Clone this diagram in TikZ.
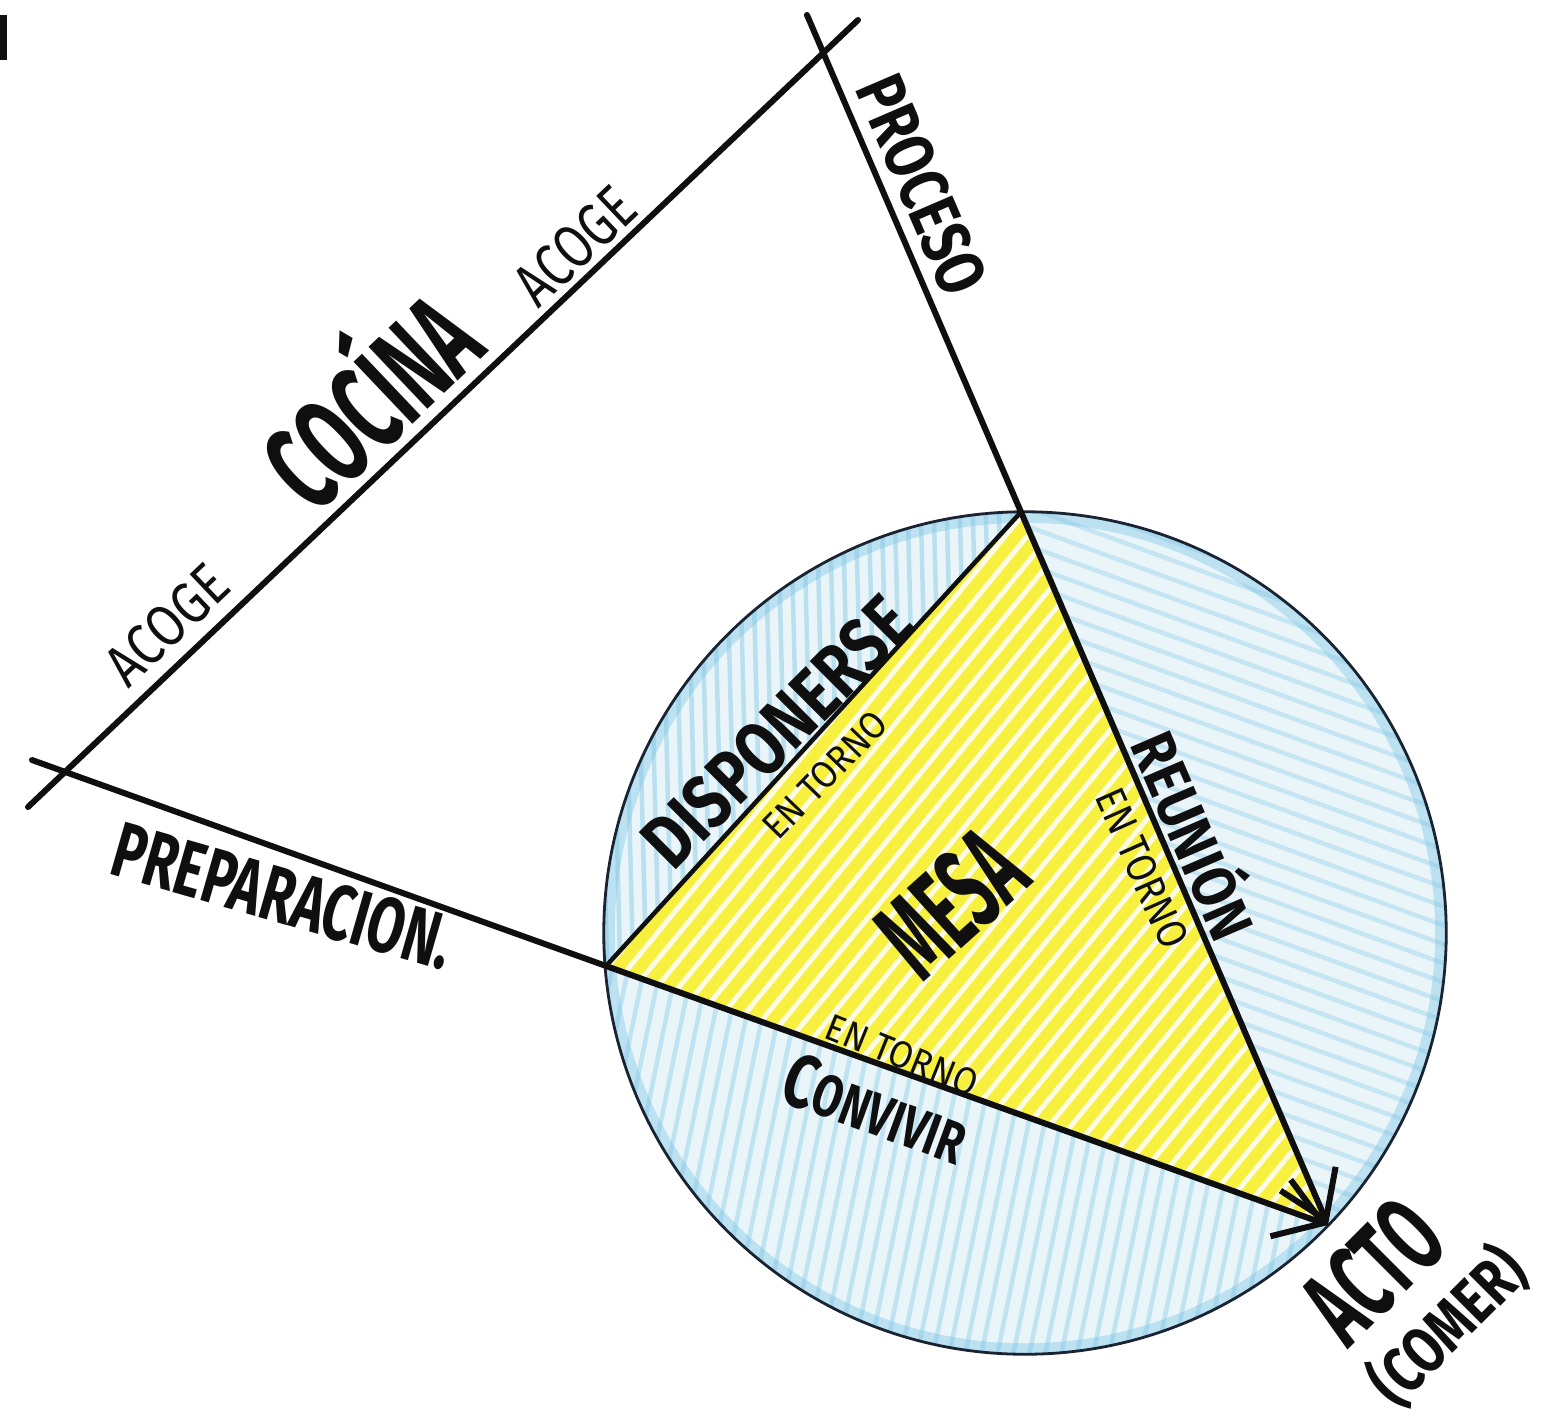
\documentclass[tikz,border=0pt]{standalone}
\usepackage{fontspec}
\setmainfont{Fira Sans}
\usepackage{graphicx}
\usetikzlibrary{arrows.meta}
\definecolor{mesayellow}{RGB}{247,240,62}
\definecolor{blueback}{RGB}{234,245,250}
\definecolor{bluestreak}{RGB}{120,196,228}
\definecolor{ink}{RGB}{15,15,15}
\definecolor{rim}{RGB}{25,35,50}
\newcommand{\fitt}[3]{\resizebox*{#1}{#2}{#3}}
\begin{document}
\begin{tikzpicture}[x=0.01cm,y=-0.01cm,
  lab/.style={inner sep=0pt, text=ink},
  mainline/.style={draw=ink, line width=0.06cm, line cap=round},
  arrowline/.style={mainline, -{Straight Barb[length=0.45cm,width=0.6cm]}},
  chord/.style={draw=ink, line width=0.045cm, line cap=round},
  bstreak/.style={draw=bluestreak, line width=0.045cm, opacity=0.42, line cap=round},
  wstreak/.style={draw=white, line width=0.05cm, opacity=0.85, line cap=round}]
\fill[white] (0,0) rectangle (1566,1423);
\useasboundingbox (0,0) rectangle (1566,1423);
% key points
\coordinate (A1) at (28,807);
\coordinate (B1) at (858,20);
\coordinate (A2) at (807,15);
\coordinate (A3) at (32,760);
\coordinate (P) at (1021,512);
\coordinate (Q) at (606,966);
\coordinate (T) at (1328,1225);
\coordinate (O) at (1025,933);
% blue disc
\fill[blueback] (O) circle[radius=4.21cm];
\begin{scope}
  \clip (O) circle[radius=4.21cm];
  \begin{scope}
    \clip (Q) -- (P) -- (1030,450) -- (560,450) -- (560,966) -- cycle;
    \foreach \i in {0,...,34} \draw[bstreak] ({595+13*\i},480) -- ({608+13*\i},1000);
  \end{scope}
  \begin{scope}
    \clip (P) -- (T) -- (1500,1225) -- (1500,450) -- (1021,450) -- cycle;
    \foreach \i in {0,...,45} \draw[bstreak, opacity=0.32] (980,{300+19*\i}) -- (1500,{300+19*\i+190});
  \end{scope}
  \begin{scope}
    \clip (Q) -- (T) -- (1500,1400) -- (560,1400) -- (560,966) -- cycle;
    \foreach \i in {0,...,60} \draw[bstreak, opacity=0.36] ({480+16*\i},1380) -- ({570+16*\i},940);
  \end{scope}
  \draw[bluestreak, opacity=0.4, line width=0.22cm] (O) circle[radius=4.21cm];
\end{scope}
% yellow table
\fill[mesayellow] (Q) -- (P) -- (T) -- cycle;
\begin{scope}
  \clip (Q) -- (P) -- (T) -- cycle;
  \foreach \i in {0,...,46} \draw[wstreak] ({290+22*\i},1300) -- ({1070+22*\i},350);
\end{scope}
\draw[rim, line width=0.028cm] (O) circle[radius=4.21cm];
% lines
\draw[mainline] (A1) -- (B1);
\draw[arrowline] (A2) -- (T);
\draw[arrowline] (A3) -- (T);
\draw[chord] (Q) -- (P);
\draw[ink, line width=0.07cm] (3,15) -- (3,60);
% labels
\node[lab, rotate=43.5] (cocina) at (362,392) {\fitt{2.4cm}{1.2cm}{\bfseries COCÍNA}};
\node[lab, rotate=43.5] (acoge1) at (167,625) {\fitt{1.45cm}{0.42cm}{ACOGE}};
\node[lab, rotate=43.5] (acoge2) at (575,246) {\fitt{1.4cm}{0.44cm}{ACOGE}};
\node[lab, rotate=-66.7] (proceso) at (922,185) {\fitt{2.3cm}{0.5cm}{\bfseries PROCESO}};
\node[lab, rotate=-66.7] (reunion) at (1199,833) {\fitt{2.18cm}{0.6cm}{\bfseries REUNIÓN}};
\node[lab, rotate=-66] (entorno2) at (1142,868) {\fitt{1.7cm}{0.3cm}{EN TORNO}};
\node[lab, rotate=-16] (prep) at (283,896) {\fitt{3.5cm}{0.57cm}{\bfseries PREPARACION.}};
\node[lab, rotate=-20] (convivir) at (876,1108) {\fitt{1.9cm}{0.55cm}{\bfseries C\scalebox{0.78}{ONVIVIR}}};
\node[lab, rotate=-22] (entorno3) at (902,1055) {\fitt{1.6cm}{0.27cm}{EN TORNO}};
\node[lab, rotate=45] (disp) at (777,732) {\fitt{3.45cm}{0.55cm}{\bfseries DISPONERSE}};
\node[lab, rotate=46] (entorno1) at (825,775) {\fitt{1.6cm}{0.27cm}{EN TORNO}};
\node[lab, rotate=42] (mesa) at (951,903) {\fitt{1.5cm}{0.85cm}{\bfseries MESA}};
\node[lab, rotate=45] (acto) at (1373,1271) {\fitt{1.45cm}{0.8cm}{\bfseries ACTO}};
\node[lab, rotate=45] (comer) at (1448,1326) {\fitt{1.9cm}{0.66cm}{\bfseries (COMER)}};
\end{tikzpicture}
\end{document}
